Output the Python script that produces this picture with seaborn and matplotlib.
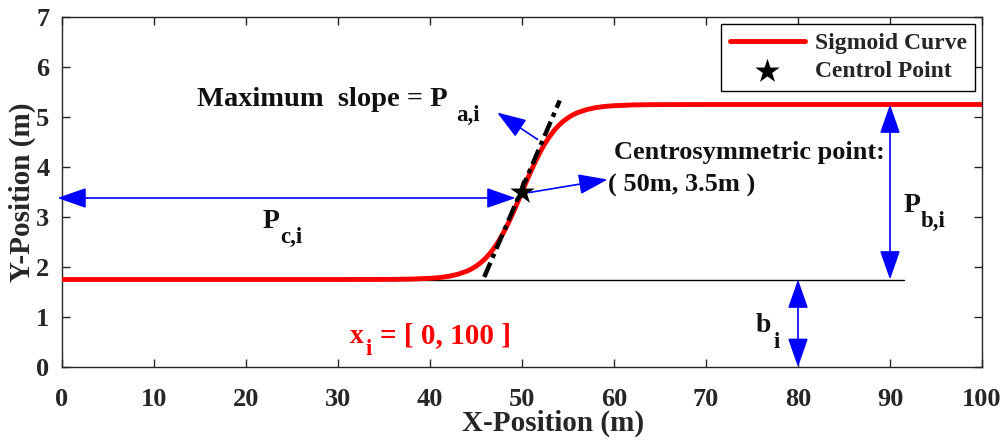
import matplotlib
matplotlib.use("Agg")
import matplotlib.pyplot as plt
import pandas as pd
import seaborn as sns

# ---- data ----
curve_x = [0, 30, 36, 38, 40, 41, 42, 43, 44, 44.5, 45, 45.5, 46, 46.5, 47, 47.5,
           48, 48.5, 49, 49.5, 50, 50.5, 51, 51.5, 52, 52.5, 53, 53.5, 54, 54.5,
           55, 55.5, 56, 57, 58, 59, 60, 62, 64, 70, 100]
curve_y = [1.75, 1.75, 1.753, 1.759, 1.774, 1.788, 1.813, 1.853, 1.916, 1.960,
           2.016, 2.084, 2.167, 2.268, 2.389, 2.529, 2.691, 2.873, 3.071, 3.282,
           3.5, 3.718, 3.929, 4.127, 4.309, 4.471, 4.611, 4.732, 4.833, 4.916,
           4.984, 5.040, 5.084, 5.147, 5.187, 5.212, 5.226, 5.241, 5.247, 5.25, 5.25]
center_x = [50.0]
center_y = [3.5]
slope_x = [45.9, 54.1]
slope_y = [1.80, 5.33]
base_x = [30.0, 91.5]
base_y = [1.75, 1.75]
x_ticks = [0, 10, 20, 30, 40, 50, 60, 70, 80, 90, 100]
y_ticks = [0, 1, 2, 3, 4, 5, 6, 7]

sns.set_theme(style="ticks")
plt.rcParams["font.family"] = ["Liberation Serif", "DejaVu Serif"]
plt.rcParams["font.weight"] = "bold"

fig = plt.figure(figsize=(10.03, 4.42), dpi=100)
ax = fig.add_axes([62 / 1003, 1 - 367 / 442, (982 - 62) / 1003, (367 - 17) / 442])

df = pd.DataFrame({"x": curve_x, "y": curve_y})
ax.plot(base_x, base_y, color="black", lw=1.0, zorder=2, label="_nolegend_")
sns.lineplot(data=df, x="x", y="y", ax=ax, color="red", lw=3.5, sort=False,
             estimator=None, label="Sigmoid Curve", zorder=3)
ax.plot(slope_x, slope_y, color="black", lw=3.2, ls=(0, (3.5, 1.2, 1.0, 1.2)),
        zorder=4, label="_nolegend_")
sns.scatterplot(x=center_x, y=center_y, marker="*", s=340, color="black",
                linewidth=0, ax=ax, zorder=5, label="Centrol Point")

blue = "#0000FF"
ink = "#111111"


def arrow(x0, y0, x1, y1, style):
    ax.annotate("", xy=(x1, y1), xytext=(x0, y0), annotation_clip=False,
                arrowprops=dict(arrowstyle=style + ",head_length=1.2,head_width=0.42",
                                color=blue, lw=1.2, shrinkA=0, shrinkB=0,
                                mutation_scale=15), zorder=6)


arrow(-0.5, 3.38, 49.3, 3.38, "<|-|>")
arrow(90, 1.75, 90, 5.25, "<|-|>")
arrow(80, 0.0, 80, 1.75, "<|-|>")
arrow(51.7, 4.55, 47.3, 5.09, "-|>")
arrow(50.8, 3.49, 59.3, 3.75, "-|>")


def label(x, y, main, sx, sy, sub, size, subsize, color=ink):
    ax.text(x, y, main, fontsize=size, fontweight="bold", va="baseline",
            ha="left", color=color)
    ax.text(sx, sy, sub, fontsize=subsize, fontweight="bold", va="baseline",
            ha="left", color=color)


label(14.7, 5.22, "Maximum  slope = P", 42.9, 4.92, "a,i", 20.5, 16.5)
label(21.8, 2.79, "P", 23.7, 2.48, "c,i", 20, 16.5)
label(91.5, 3.11, "P", 93.3, 2.80, "b,i", 20, 16.5)
label(75.4, 0.70, "b", 77.3, 0.38, "i", 20, 16.5)
label(31.3, 0.48, "x", 33.0, 0.24, "i", 20, 16.5, color="red")
ax.text(34.6, 0.48, "= [ 0, 100 ]", fontsize=21, fontweight="bold",
        va="baseline", ha="left", color="red")

ax.text(60.0, 4.17, "Centrosymmetric point:", fontsize=19, fontweight="bold",
        va="baseline", ha="left", color=ink)
ax.text(59.4, 3.50, "( 50m, 3.5m )", fontsize=19, fontweight="bold",
        va="baseline", ha="left", color=ink)

ax.set_xlim(0, 100)
ax.set_ylim(0, 7)
ax.set_xticks(x_ticks)
ax.set_yticks(y_ticks)
ax.tick_params(direction="in", top=True, right=True, length=6, width=1,
               labelsize=19, colors="#262626", pad=9)
ax.tick_params(axis="x", pad=15)
for lab in ax.get_xticklabels() + ax.get_yticklabels():
    lab.set_fontweight("bold")
for sp in ax.spines.values():
    sp.set_color("#262626")
    sp.set_linewidth(1.0)
    sp.set_visible(True)

ax.set_xlabel("X-Position (m)", fontsize=21, fontweight="bold", color="#262626")
ax.set_ylabel("Y-Position (m)", fontsize=21, fontweight="bold", color="#262626")
ax.xaxis.set_label_coords((553 - 62) / 920, -(423 - 367) / 350)
ax.yaxis.set_label_coords(-(62 - 22) / 920, 0.5)
ax.xaxis.label.set_va("center")
ax.yaxis.label.set_va("center")

leg = ax.legend(loc="upper right", fontsize=17, frameon=True, fancybox=False,
                edgecolor="black", framealpha=1, handlelength=3.2,
                borderaxespad=0.3, borderpad=0.35, labelspacing=0.3, handletextpad=0.4)
leg.get_frame().set_linewidth(1.0)
for t in leg.get_texts():
    t.set_fontweight("bold")

fig.savefig("out.png", dpi=100)
